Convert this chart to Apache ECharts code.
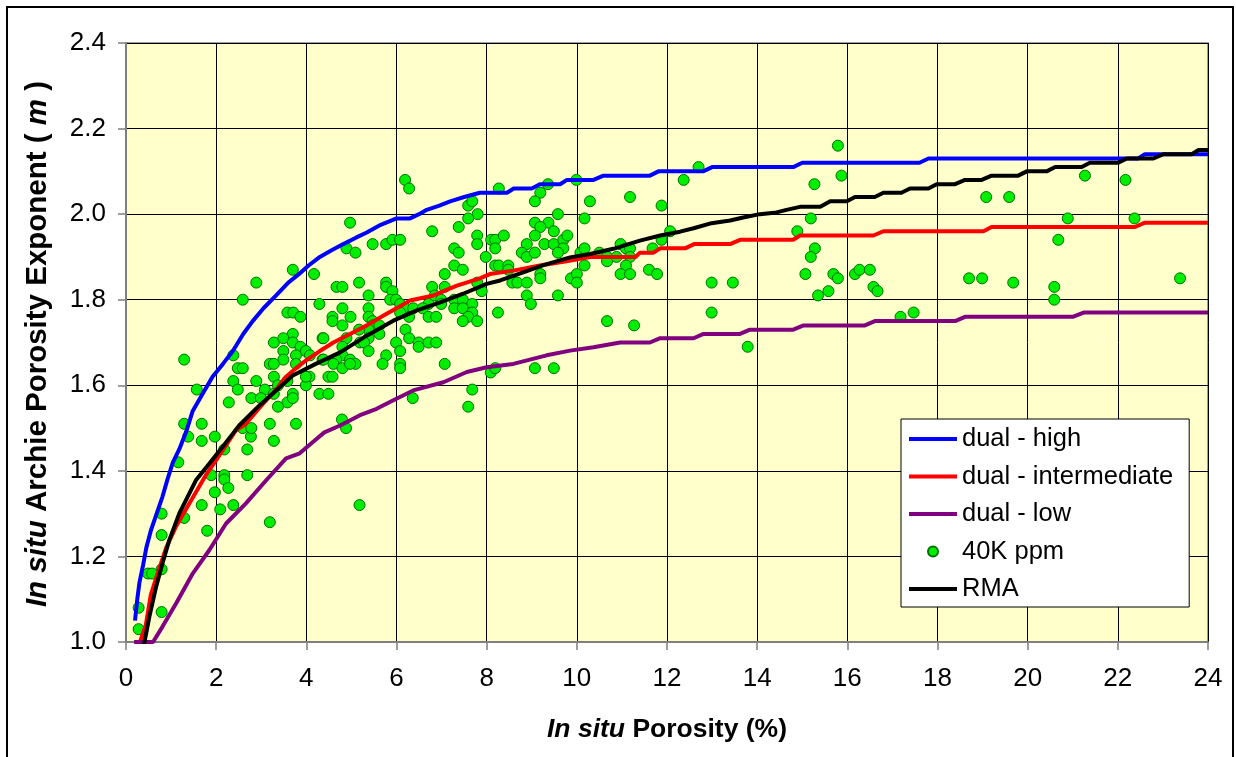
<!DOCTYPE html>
<html>
<head>
<meta charset="utf-8">
<script src="https://cdn.jsdelivr.net/npm/echarts@6/dist/echarts.min.js"></script>
<style>
  html, body { margin: 0; padding: 0; background: #ffffff; }
  #chart { width: 1236px; height: 757px; }
</style>
</head>
<body>
<div id="chart"></div>
<script>
// Axis ranges and tick labels
const xTicks = [0, 2, 4, 6, 8, 10, 12, 14, 16, 18, 20, 22, 24];
const yTicks = [1.0, 1.2, 1.4, 1.6, 1.8, 2.0, 2.2, 2.4];

// Series names (legend order)
const seriesNames = ['dual - high', 'dual - intermediate', 'dual - low', '40K ppm', 'RMA'];

// Model curves: [porosity %, m]
const dualHigh = [
  [0.2,1.05],[0.25,1.10],[0.3,1.14],[0.38,1.18],[0.45,1.22],[0.55,1.26],[0.68,1.30],[0.81,1.34],
  [0.92,1.38],[1.04,1.42],[1.18,1.45],[1.33,1.49],[1.48,1.54],[1.7,1.58],[1.92,1.62],[2.15,1.65],
  [2.37,1.68],[2.6,1.72],[2.81,1.75],[3.05,1.78],[3.33,1.81],[3.6,1.84],[3.84,1.86],[4.05,1.88],
  [4.3,1.90],[4.55,1.915],[4.82,1.93],[5.1,1.945],[5.34,1.957],[5.65,1.975],[6.0,1.99],[6.3,1.99],
  [6.5,2.0],[6.67,2.01],[6.95,2.02],[7.19,2.03],[7.5,2.04],[7.85,2.05],[8.45,2.05],[8.6,2.06],
  [9.0,2.06],[9.18,2.07],[9.63,2.07],[9.78,2.08],[10.37,2.08],[10.59,2.09],[11.62,2.09],[11.81,2.10],
  [12.8,2.10],[13.0,2.11],[14.8,2.11],[15.0,2.12],[17.6,2.12],[17.8,2.13],[22.45,2.13],[22.6,2.14],
  [24,2.14]
];
const dualIntermediate = [
  [0.31,1.0],[0.44,1.04],[0.55,1.11],[0.7,1.16],[0.89,1.22],[1.11,1.27],[1.33,1.31],[1.55,1.35],
  [1.77,1.39],[2.0,1.425],[2.22,1.46],[2.44,1.495],[2.66,1.51],[2.9,1.54],[3.11,1.565],[3.33,1.59],
  [3.55,1.62],[3.77,1.64],[3.99,1.658],[4.3,1.68],[4.6,1.70],[4.97,1.72],[5.34,1.74],[5.78,1.767],
  [6.0,1.78],[6.3,1.798],[6.82,1.81],[7.34,1.833],[7.85,1.85],[8.07,1.86],[8.59,1.868],[9.18,1.88],
  [9.77,1.89],[10.29,1.90],[11.3,1.90],[11.4,1.91],[11.7,1.91],[11.85,1.92],[12.4,1.92],[12.6,1.93],
  [13.4,1.93],[13.62,1.94],[14.8,1.94],[14.95,1.95],[16.58,1.95],[16.8,1.96],[19.02,1.96],[19.2,1.97],
  [22.38,1.97],[22.6,1.98],[24,1.98]
];
const dualLow = [
  [0.18,1.0],[0.6,1.0],[0.81,1.036],[1.11,1.09],[1.48,1.16],[1.85,1.215],[2.22,1.277],[2.66,1.324],
  [3.11,1.378],[3.55,1.429],[3.84,1.44],[4.14,1.467],[4.4,1.49],[4.75,1.506],[5.19,1.53],[5.56,1.545],
  [5.93,1.565],[6.37,1.588],[7.04,1.607],[7.56,1.631],[8.0,1.642],[8.59,1.65],[9.33,1.67],[9.85,1.681],
  [10.37,1.689],[10.96,1.70],[11.62,1.70],[11.85,1.71],[12.59,1.71],[12.81,1.72],[13.62,1.72],[13.84,1.73],
  [14.8,1.73],[15.03,1.74],[16.39,1.74],[16.61,1.75],[18.39,1.75],[18.61,1.76],[21.0,1.76],[21.24,1.77],
  [24,1.77]
];
const rma = [
  [0.35,0.98],[0.41,1.0],[0.52,1.06],[0.67,1.13],[0.81,1.184],[0.96,1.238],[1.18,1.30],[1.55,1.378],
  [1.85,1.417],[2.14,1.456],[2.37,1.487],[2.51,1.506],[2.96,1.553],[3.25,1.58],[3.70,1.623],[4.21,1.65],
  [4.75,1.677],[5.34,1.716],[5.93,1.751],[6.45,1.775],[6.97,1.794],[7.48,1.814],[8.0,1.837],[8.30,1.845],
  [8.81,1.864],[9.26,1.881],[9.85,1.899],[10.29,1.907],[10.81,1.919],[11.40,1.938],[11.85,1.95],[12.29,1.959],
  [12.59,1.967],[12.95,1.978],[13.40,1.985],[13.69,1.992],[14.06,2.0],[14.43,2.004],[14.65,2.01],[14.95,2.017],
  [15.4,2.017],[15.62,2.03],[15.99,2.03],[16.17,2.04],[16.61,2.04],[16.8,2.05],[17.2,2.05],[17.39,2.06],
  [17.8,2.06],[17.98,2.07],[18.39,2.07],[18.61,2.08],[18.98,2.08],[19.2,2.09],[19.79,2.09],[19.98,2.10],
  [20.42,2.10],[20.61,2.11],[21.2,2.11],[21.38,2.12],[22.01,2.12],[22.2,2.13],[22.79,2.13],[23.01,2.14],
  [23.64,2.14],[23.79,2.15],[24,2.15]
];

// Measured samples (40K ppm): [porosity %, m]
const samples40K = [
  [1.38,1.48],[1.68,1.47],[1.97,1.48],[2.18,1.45],[2.69,1.45],[2.77,1.48],[3.28,1.47],[2.59,1.50],[2.78,1.50],
  [1.16,1.42],[1.89,1.39],[2.18,1.39],[2.18,1.38],[2.69,1.39],[2.27,1.36],[1.97,1.35],[1.68,1.32],[2.09,1.31],
  [2.38,1.32],[1.29,1.29],[0.79,1.30],[0.79,1.25],[1.80,1.26],[3.19,1.28],[0.79,1.17],[0.49,1.16],[0.58,1.16],
  [0.28,1.08],[0.79,1.07],[0.28,1.03],
  [3.70,1.87],[4.17,1.86],[2.89,1.84],[2.59,1.80],[4.29,1.79],[3.58,1.77],[3.71,1.77],[3.87,1.76],[3.70,1.72],
  [3.28,1.70],[3.49,1.71],[3.70,1.70],[3.87,1.69],[3.99,1.68],[3.49,1.68],[4.08,1.67],[3.77,1.67],[3.49,1.66],
  [3.19,1.65],[3.28,1.65],[3.77,1.65],[4.36,1.71],[4.36,1.66],[1.29,1.66],[2.38,1.67],[2.48,1.64],[2.59,1.64],
  [3.28,1.62],[3.58,1.61],[4.07,1.62],[3.99,1.60],[3.37,1.60],[2.38,1.61],[2.89,1.61],[3.08,1.59],[2.48,1.59],
  [1.57,1.59],[3.28,1.58],[3.70,1.58],[4.29,1.58],[2.78,1.57],[2.99,1.57],[3.58,1.56],[3.70,1.57],[3.37,1.55],
  [2.28,1.56],[1.29,1.51],[1.68,1.51],[3.19,1.51],[3.77,1.51],
  [3.99,1.62],[4.49,1.58],[4.49,1.62],[4.58,1.62],[4.79,1.52],[4.88,1.50],[6.36,1.57],[5.18,1.32],
  [4.97,1.98],[4.89,1.92],[5.09,1.91],[5.47,1.93],[5.77,1.93],[5.91,1.94],[6.08,1.94],[6.79,1.96],[7.38,1.97],
  [7.59,2.02],[7.68,2.03],[7.80,2.00],[7.59,1.99],[7.79,1.95],[7.79,1.93],[8.10,1.94],[8.19,1.94],[8.19,1.92],
  [7.98,1.90],[8.19,1.88],[7.28,1.92],[7.38,1.91],[7.28,1.88],[7.47,1.87],[7.07,1.86],[7.07,1.83],[6.79,1.83],
  [7.79,1.84],[7.89,1.82],[5.17,1.84],[4.67,1.83],[4.80,1.83],[5.77,1.84],[5.77,1.83],[5.91,1.82],[5.38,1.81],
  [5.86,1.80],[5.99,1.80],[6.08,1.79],[6.20,1.78],[6.37,1.78],[6.71,1.79],[6.58,1.78],[6.85,1.81],[6.99,1.80],
  [6.99,1.79],[7.28,1.80],[7.47,1.80],[7.68,1.79],[7.28,1.78],[7.47,1.78],[7.68,1.77],[7.59,1.76],[7.47,1.75],
  [7.79,1.75],[6.08,1.77],[6.28,1.76],[6.71,1.76],[6.88,1.76],[4.58,1.76],[4.58,1.75],[4.80,1.78],[4.98,1.76],
  [4.80,1.74],[5.38,1.78],[5.38,1.76],[5.47,1.75],[5.47,1.74],[5.62,1.74],[5.38,1.73],[5.17,1.73],[5.62,1.72],
  [5.38,1.71],[5.19,1.70],[5.28,1.70],[4.89,1.71],[4.80,1.69],[4.38,1.71],[5.38,1.68],[4.80,1.67],[4.66,1.66],
  [4.38,1.66],[4.97,1.66],[5.09,1.65],[4.60,1.65],[4.80,1.64],[4.97,1.65],[5.77,1.67],[5.69,1.65],[6.08,1.65],
  [6.08,1.64],[5.99,1.70],[6.08,1.68],[6.20,1.73],[6.28,1.71],[6.49,1.70],[6.49,1.69],[6.71,1.70],[6.88,1.70],
  [7.07,1.65],[7.68,1.59],[7.59,1.55],[8.09,1.63],[8.25,1.77],[6.19,2.08],[6.28,2.06],
  [8.27,2.06],[9.36,2.07],[9.19,2.05],[9.07,2.03],[9.99,2.08],[10.29,2.03],[11.18,2.04],[11.88,2.02],[9.58,2.00],
  [10.17,1.99],[9.07,1.98],[9.37,1.98],[9.19,1.97],[9.49,1.96],[9.07,1.95],[8.38,1.95],[8.89,1.93],[9.28,1.93],
  [9.49,1.93],[9.70,1.94],[9.79,1.95],[9.70,1.92],[9.58,1.91],[8.78,1.91],[8.89,1.90],[9.07,1.91],[8.27,1.88],
  [8.48,1.88],[8.48,1.87],[8.57,1.84],[8.68,1.84],[8.89,1.84],[9.19,1.86],[9.19,1.85],[8.89,1.81],[8.98,1.79],
  [9.58,1.81],[10.08,1.91],[10.17,1.92],[10.17,1.88],[9.87,1.85],[10.00,1.86],[10.00,1.84],[10.50,1.91],[10.67,1.90],
  [10.67,1.89],[10.88,1.90],[10.97,1.93],[11.09,1.92],[11.18,1.92],[11.18,1.90],[11.09,1.88],[10.97,1.86],[11.18,1.86],
  [11.60,1.87],[11.78,1.86],[11.68,1.92],[11.88,1.94],[12.07,1.96],[10.67,1.75],[11.27,1.74],[9.07,1.64],[9.49,1.64],
  [8.19,1.64],
  [12.70,2.11],[12.37,2.08],[15.27,2.07],[15.19,1.99],[14.89,1.96],[15.28,1.92],[15.19,1.90],[15.07,1.86],[15.35,1.81],
  [12.99,1.84],[13.46,1.84],[12.99,1.77],[13.79,1.69],
  [15.79,2.16],[15.87,2.09],[15.69,1.86],[15.79,1.85],[16.17,1.86],[16.27,1.87],[15.58,1.82],
  [16.50,1.87],[16.58,1.83],[16.67,1.82],[17.18,1.76],[17.47,1.77],[18.70,1.85],[18.99,1.85],[19.68,1.84],
  [19.08,2.04],[19.59,2.04],[20.59,1.83],[20.59,1.80],[20.68,1.94],[20.89,1.99],[21.27,2.09],[22.17,2.08],
  [22.37,1.99],[23.38,1.85]
];

const FONT = '"Liberation Sans", Arial, sans-serif';
const AXIS_GREY = '#7f7f7f';
const LINE_ICON = 'path://M0,0H12V1H0Z';

const chart = echarts.init(document.getElementById('chart'), null, { renderer: 'canvas' });

function lineSeries(name, data, color) {
  return {
    name: name,
    type: 'line',
    data: data,
    showSymbol: false,
    symbol: 'none',
    smooth: false,
    clip: true,
    lineStyle: { color: color, width: 4 },
    itemStyle: { color: color },
    emphasis: { disabled: true },
    animation: false
  };
}

chart.setOption({
  animation: false,
  backgroundColor: '#ffffff',
  textStyle: { fontFamily: FONT, color: '#000' },
  grid: {
    left: 126, right: 28, top: 43, bottom: 115,
    show: true,
    backgroundColor: '#FFFFCC',
    borderColor: AXIS_GREY,
    borderWidth: 1.5
  },
  xAxis: {
    type: 'value',
    min: xTicks[0],
    max: xTicks[xTicks.length - 1],
    interval: 2,
    axisLine: { show: true, onZero: false, lineStyle: { color: AXIS_GREY, width: 2 } },
    axisTick: { show: true, inside: false, length: 8, lineStyle: { color: AXIS_GREY, width: 1.5 } },
    axisLabel: { show: true, margin: 24, fontSize: 26, color: '#000', fontFamily: FONT },
    splitLine: { show: true, lineStyle: { color: '#000', width: 1 } }
  },
  yAxis: {
    type: 'value',
    min: yTicks[0],
    max: yTicks[yTicks.length - 1],
    interval: 0.2,
    axisLine: { show: true, onZero: false, lineStyle: { color: AXIS_GREY, width: 2 } },
    axisTick: { show: true, inside: false, length: 8, lineStyle: { color: AXIS_GREY, width: 1.5 } },
    axisLabel: {
      show: true, margin: 20, fontSize: 26, color: '#000', fontFamily: FONT,
      formatter: v => v.toFixed(1)
    },
    splitLine: { show: true, lineStyle: { color: '#000', width: 1 } }
  },
  legend: {
    show: true,
    data: seriesNames.map(n => n === '40K ppm'
      ? { name: n, icon: 'circle' }
      : { name: n, icon: LINE_ICON }),
    orient: 'vertical',
    left: 901,
    top: 419,
    itemWidth: 48,
    itemHeight: 10,
    itemGap: 9.5,
    padding: [6, 16, 4, 8],
    backgroundColor: '#ffffff',
    borderColor: '#000',
    borderWidth: 1,
    borderRadius: 0,
    selectedMode: false,
    textStyle: { fontSize: 25.5, lineHeight: 28, color: '#000', fontFamily: FONT, padding: [0, 0, 0, 0] }
  },
  graphic: [
    {
      type: 'rect',
      shape: { x: 7, y: 7, width: 1226, height: 800 },
      style: { fill: null, stroke: '#000', lineWidth: 2 },
      silent: true, z: 100
    },
    {
      type: 'text',
      x: 667, y: 730,
      style: {
        text: '{it|In situ}{b| Porosity (%)}',
        align: 'center', verticalAlign: 'middle',
        rich: {
          it: { fontFamily: FONT, fontSize: 26.5, fontWeight: 'bold', fontStyle: 'italic', fill: '#000' },
          b: { fontFamily: FONT, fontSize: 26.5, fontWeight: 'bold', fill: '#000' }
        }
      },
      silent: true
    },
    {
      type: 'text',
      x: 38, y: 344,
      rotation: Math.PI / 2,
      style: {
        text: '{it|In situ}{b| Archie Porosity Exponent ( }{it|m}{b| )}',
        align: 'center', verticalAlign: 'middle',
        rich: {
          it: { fontFamily: FONT, fontSize: 29.5, fontWeight: 'bold', fontStyle: 'italic', fill: '#000' },
          b: { fontFamily: FONT, fontSize: 29.5, fontWeight: 'bold', fill: '#000' }
        }
      },
      silent: true
    }
  ],
  series: [
    lineSeries(seriesNames[0], dualHigh, '#0000FF'),
    lineSeries(seriesNames[1], dualIntermediate, '#FF0000'),
    lineSeries(seriesNames[2], dualLow, '#800080'),
    {
      name: seriesNames[3],
      type: 'scatter',
      data: samples40K,
      symbol: 'circle',
      symbolSize: 11,
      itemStyle: { color: '#00EE00', borderColor: '#007000', borderWidth: 1, opacity: 1 },
      emphasis: { disabled: true },
      animation: false
    },
    lineSeries(seriesNames[4], rma, '#000000')
  ]
});
</script>
</body>
</html>
